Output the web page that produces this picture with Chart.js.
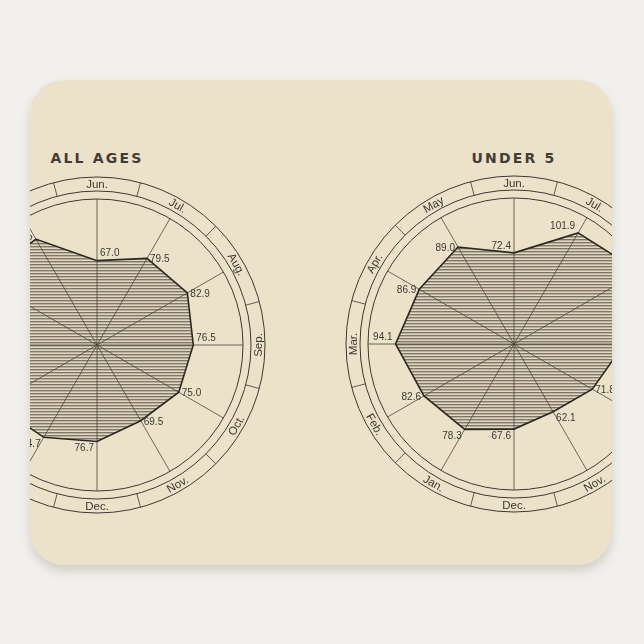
<!DOCTYPE html>
<html>
<head>
<meta charset="utf-8">
<script src="https://cdn.jsdelivr.net/npm/chart.js@4.4.1/dist/chart.umd.min.js"></script>
<style>
  html, body { margin: 0; padding: 0; }
  body { width: 644px; height: 644px; background: #f1f0ed; position: relative; overflow: hidden; }
  #pad {
    position: absolute; left: 30px; top: 80px; width: 582px; height: 485px;
    background: #ece2ca; border-radius: 34px; overflow: hidden;
    box-shadow: 0 6px 10px rgba(120,110,90,0.25);
  }
  .title {
    position: absolute; top: 70px; width: 200px; text-align: center;
    font-family: "DejaVu Sans", sans-serif; font-size: 14px; font-weight: bold;
    letter-spacing: 2.2px; color: #433d35;
  }
  canvas { position: absolute; }
</style>
</head>
<body>
<div id="pad">
  <div class="title" style="left:-33px">ALL AGES</div>
  <div class="title" style="left:384px">UNDER 5</div>
  <canvas id="allAges" width="360" height="360" style="left:-113px; top:85px"></canvas>
  <canvas id="under5" width="360" height="360" style="left:304px; top:84px"></canvas>
</div>
<script>
// months clockwise from the top
let months = ['Jun.', 'Jul.', 'Aug.', 'Sep.', 'Oct.', 'Nov.', 'Dec.', 'Jan.', 'Feb.', 'Mar.', 'Apr.', 'May'];

// ALL AGES (Feb - Apr are off the pad, estimated)
let allAgesValues = [67.0, 79.5, 82.9, 76.5, 75.0, 69.5, 76.7, 84.7, 93.7, 101.0, 104.0, 97.2];
// UNDER 5 (Aug, Sep are off the pad, estimated)
let under5Values = [72.4, 101.9, 115.0, 87.6, 71.8, 62.1, 67.6, 78.3, 82.6, 94.1, 86.9, 89.0];

let scaleMax = 116;

// where each value label sits next to its corner
let allAgesPlace = ['ne', 'e', 'e', 'ne', 'e', 'e', 'sw', 'sw', 'w', 'nw', 'w', 'w'];
let under5Place = ['nw', 'nw', 'e', 'ne', 'e', 'se', 'sw', 'sw', 'w', 'nw', 'w', 'w'];

const ink = '#3d3832';

// horizontal hatching for the fill
function hatch() {
  let c = document.createElement('canvas');
  c.width = 4; c.height = 3;
  let g = c.getContext('2d');
  g.fillStyle = 'rgba(70,62,52,0.66)'; g.fillRect(0, 0, 4, 1);
  g.fillStyle = 'rgba(70,62,52,0.30)'; g.fillRect(0, 1, 4, 1);
  g.fillStyle = 'rgba(70,62,52,0.06)'; g.fillRect(0, 2, 4, 1);
  return g.createPattern(c, 'repeat');
}

// RINGS, MONTH BAND AND VALUE LABELS
const ringPlugin = {
  id: 'ring',
  afterDraw(chart) {
    const ctx = chart.ctx;
    const s = chart.scales.r;
    const r0 = s.drawingArea;
    const rBand = r0 * 154 / 146;
    const rOut = r0 * 168 / 146;
    const n = chart.data.labels.length;

    ctx.save();
    ctx.strokeStyle = ink;
    ctx.lineWidth = 1;
    [rBand, rOut].forEach(r => {
      ctx.beginPath();
      ctx.arc(s.xCenter, s.yCenter, r, 0, Math.PI * 2);
      ctx.stroke();
    });

    // dividers between month names
    ctx.lineWidth = 0.8;
    for (let i = 0; i < n; i++) {
      let a = s.getPointPosition(i + 0.5, rBand);
      let b = s.getPointPosition(i + 0.5, rOut);
      ctx.beginPath();
      ctx.moveTo(a.x, a.y);
      ctx.lineTo(b.x, b.y);
      ctx.stroke();
    }

    // month names, turned along the ring
    ctx.fillStyle = ink;
    ctx.font = '11.5px "Liberation Sans", sans-serif';
    ctx.textAlign = 'center';
    ctx.textBaseline = 'middle';
    for (let i = 0; i < n; i++) {
      let deg = s.getIndexAngle(i) * 180 / Math.PI;
      let rot = ((deg + 90) % 180) - 90;
      let p = s.getPointPosition(i, (rBand + rOut) / 2);
      ctx.save();
      ctx.translate(p.x, p.y);
      ctx.rotate(rot * Math.PI / 180);
      ctx.fillText(chart.data.labels[i], 0, 0.5);
      ctx.restore();
    }

    // values at the corners
    const ds = chart.data.datasets[0];
    const place = chart.options.plugins.ring.place;
    ctx.font = '10px "Liberation Sans", sans-serif';
    ds.data.forEach((v, i) => {
      let p = s.getPointPositionForValue(i, v);
      let k = place[i];
      let dx = 0, dy = 0;
      if (k.includes('e')) { ctx.textAlign = 'left'; dx = 3; }
      else { ctx.textAlign = 'right'; dx = -3; }
      if (k.includes('n')) dy = -7;
      else if (k.includes('s')) dy = 7;
      else dy = 1;
      ctx.fillText(v.toFixed(1), p.x + dx, p.y + dy);
    });
    ctx.restore();
  }
};

function makeChart(id, values, place) {
  return new Chart(document.getElementById(id), {
    type: 'radar',
    data: {
      labels: months,
      datasets: [{
        data: values,
        backgroundColor: hatch(),
        borderColor: '#2b2722',
        borderWidth: 1.6,
        pointRadius: 0,
        fill: true,
        tension: 0
      }]
    },
    options: {
      responsive: false,
      animation: false,
      layout: { padding: 34 },
      plugins: {
        legend: { display: false },
        tooltip: { enabled: false },
        ring: { place: place }
      },
      scales: {
        r: {
          min: 0,
          max: scaleMax,
          ticks: { display: false, stepSize: scaleMax },
          pointLabels: { display: false },
          grid: { circular: true, color: ink, lineWidth: 1 },
          angleLines: { color: '#4a453e', lineWidth: 0.8 }
        }
      }
    },
    plugins: [ringPlugin]
  });
}

makeChart('allAges', allAgesValues, allAgesPlace);
makeChart('under5', under5Values, under5Place);
</script>
</body>
</html>
